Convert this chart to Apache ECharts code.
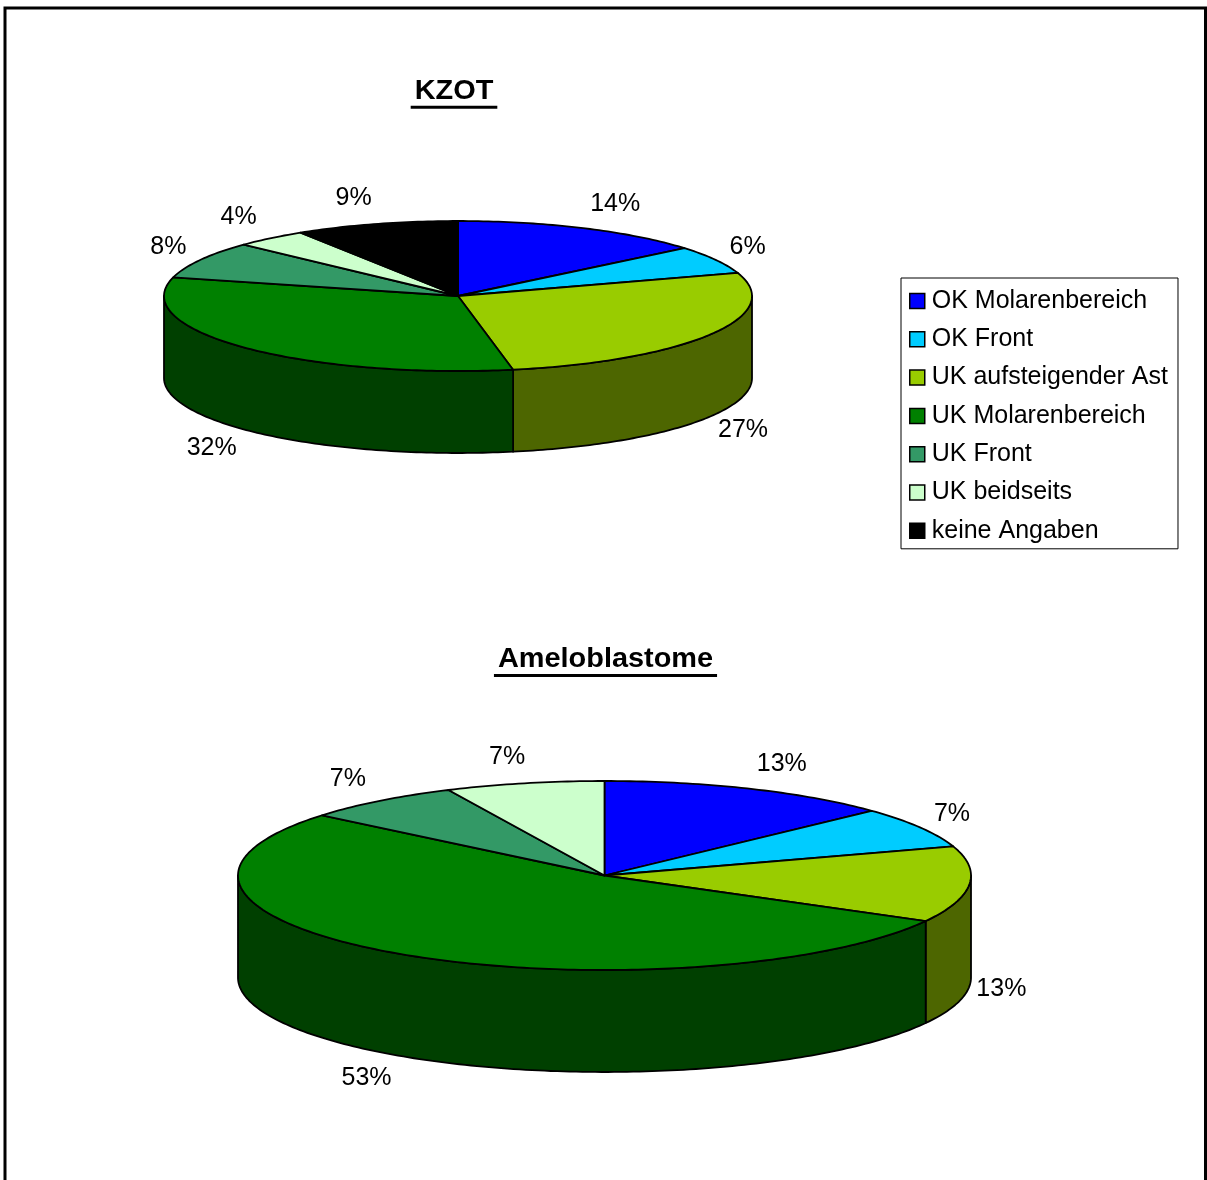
<!DOCTYPE html>
<html>
<head>
<meta charset="utf-8">
<script src="https://cdn.jsdelivr.net/npm/echarts@6/dist/echarts.min.js"></script>
<style>
  html, body { margin: 0; padding: 0; background: #fff; }
  #chart { width: 1207px; height: 1180px; }
</style>
</head>
<body>
<div id="chart"></div>
<script>
// Localisation categories shared by both pies
const categories = [
  'OK Molarenbereich',
  'OK Front',
  'UK aufsteigender Ast',
  'UK Molarenbereich',
  'UK Front',
  'UK beidseits',
  'keine Angaben'
];

// Share of cases per localisation, in percent
const kzotValues = [14, 6, 27, 32, 8, 4, 9];
const ameloValues = [13, 7, 13, 53, 7, 7, 0];

const pieTitles = ['KZOT', 'Ameloblastome'];

const sliceColors = ['#0000FF', '#00CCFF', '#99CC00', '#008000', '#339966', '#CCFFCC', '#000000'];

const FONT_FAMILY = '"Liberation Sans", Arial, Helvetica, sans-serif';

// darker tone for the visible rim of each slice
function shade(hex, f) {
  const n = parseInt(hex.slice(1), 16);
  const r = Math.round(((n >> 16) & 255) * f);
  const g = Math.round(((n >> 8) & 255) * f);
  const b = Math.round((n & 255) * f);
  return 'rgb(' + r + ',' + g + ',' + b + ')';
}

// Tilted 3D pie: elliptical top face plus a rim on the front half
function pieSeries(name, values, geo) {
  const total = values.reduce((a, b) => a + b, 0);
  const starts = [];
  let acc = 0;
  values.forEach(v => { starts.push(acc); acc += v; });

  const pt = (t, dz) => [geo.cx + geo.rx * Math.sin(t), geo.cy - geo.ry * Math.cos(t) + dz];
  const arc = (t0, t1, dz) => {
    const n = Math.max(2, Math.ceil(Math.abs(t1 - t0) / (Math.PI / 180)));
    const out = [];
    for (let k = 0; k <= n; k++) out.push(pt(t0 + (t1 - t0) * k / n, dz));
    return out;
  };

  return {
    type: 'custom',
    name: name,
    coordinateSystem: 'none',
    silent: true,
    data: values.map((v, i) => ({ name: categories[i], value: [i, v] })),
    renderItem: function (params, api) {
      const i = api.value(0);
      const v = api.value(1);
      if (!v) return null;
      const a0 = starts[i] / total * 2 * Math.PI;
      const a1 = (starts[i] + v) / total * 2 * Math.PI;
      const color = sliceColors[i];
      const children = [];

      // rim (only the part facing the viewer)
      const lo = Math.max(a0, Math.PI / 2);
      const hi = Math.min(a1, 3 * Math.PI / 2);
      if (hi > lo) {
        const pts = arc(lo, hi, 0).concat(arc(hi, lo, geo.depth));
        children.push({
          type: 'polygon',
          shape: { points: pts },
          style: { fill: shade(color, 0.5), stroke: '#000', lineWidth: 1.8, lineJoin: 'round' }
        });
      }

      // top face
      const top = [[geo.cx, geo.cy]].concat(arc(a0, a1, 0));
      children.push({
        type: 'polygon',
        shape: { points: top },
        style: { fill: color, stroke: '#000', lineWidth: 1.8, lineJoin: 'round' }
      });

      // percentage label just outside the slice edge
      const mid = (a0 + a1) / 2;
      const s = Math.sin(mid), c = Math.cos(mid);
      const edge = pt(mid, c < 0 ? geo.depth : 0);
      const lx = edge[0] + 32 * Math.sign(s) * Math.min(1, Math.abs(s) / 0.4);
      const ly = edge[1] - 27 * c;
      children.push({
        type: 'text',
        x: lx,
        y: ly,
        style: {
          text: Math.round(v / total * 100) + '%',
          align: 'center',
          verticalAlign: 'middle',
          font: '25px ' + FONT_FAMILY,
          fill: '#000'
        }
      });

      return { type: 'group', children: children };
    }
  };
}

// width of a title, used for its underline
function textWidth(str, font) {
  const ctx = document.createElement('canvas').getContext('2d');
  ctx.font = font;
  return ctx.measureText(str).width;
}

const TITLE_FONT = 'bold 27px ' + FONT_FAMILY;
const TITLE_SCALE = 1.07;

function titleGraphics(text, cx, cy, underlineY) {
  const w = textWidth(text, TITLE_FONT) * TITLE_SCALE + 8;
  return [
    {
      type: 'text',
      x: cx,
      y: cy,
      scaleX: TITLE_SCALE,
      style: { text: text, font: TITLE_FONT, fill: '#000', align: 'center', verticalAlign: 'middle' }
    },
    {
      type: 'rect',
      shape: { x: cx - w / 2, y: underlineY - 1.5, width: w, height: 3 },
      style: { fill: '#000' }
    }
  ];
}

const kzotGeo = { cx: 458, cy: 296, rx: 294, ry: 75, depth: 82 };
const ameloGeo = { cx: 604.5, cy: 875.5, rx: 366.5, ry: 94.5, depth: 102 };

// empty series that only feed the legend entries
const legendSeries = categories.map((c, i) => ({
  type: 'custom',
  name: c,
  coordinateSystem: 'none',
  data: [],
  renderItem: () => null,
  itemStyle: { color: sliceColors[i] }
}));

const chart = echarts.init(document.getElementById('chart'), null, { renderer: 'canvas' });

chart.setOption({
  animation: false,
  backgroundColor: '#fff',
  legend: {
    data: categories,
    orient: 'vertical',
    left: 901,
    top: 278,
    padding: [10.5, 10, 5.5, 8],
    backgroundColor: '#fff',
    borderColor: '#000',
    borderWidth: 1,
    icon: 'rect',
    itemWidth: 15,
    itemHeight: 15,
    itemGap: 13.3,
    selectedMode: false,
    itemStyle: { borderColor: '#000', borderWidth: 1.5 },
    textStyle: {
      fontFamily: FONT_FAMILY,
      fontSize: 25,
      lineHeight: 25,
      color: '#000',
      padding: [0, 0, 0, 2]
    }
  },
  graphic: [
    {
      type: 'rect',
      shape: { x: 5, y: 8, width: 1200.5, height: 1300 },
      style: { fill: 'none', stroke: '#000', lineWidth: 3 }
    }
  ]
    .concat(titleGraphics(pieTitles[0], 454, 92, 107.3))
    .concat(titleGraphics(pieTitles[1], 605.5, 659.5, 675.5)),
  series: [
    pieSeries(pieTitles[0], kzotValues, kzotGeo),
    pieSeries(pieTitles[1], ameloValues, ameloGeo)
  ].concat(legendSeries)
});
</script>
</body>
</html>
